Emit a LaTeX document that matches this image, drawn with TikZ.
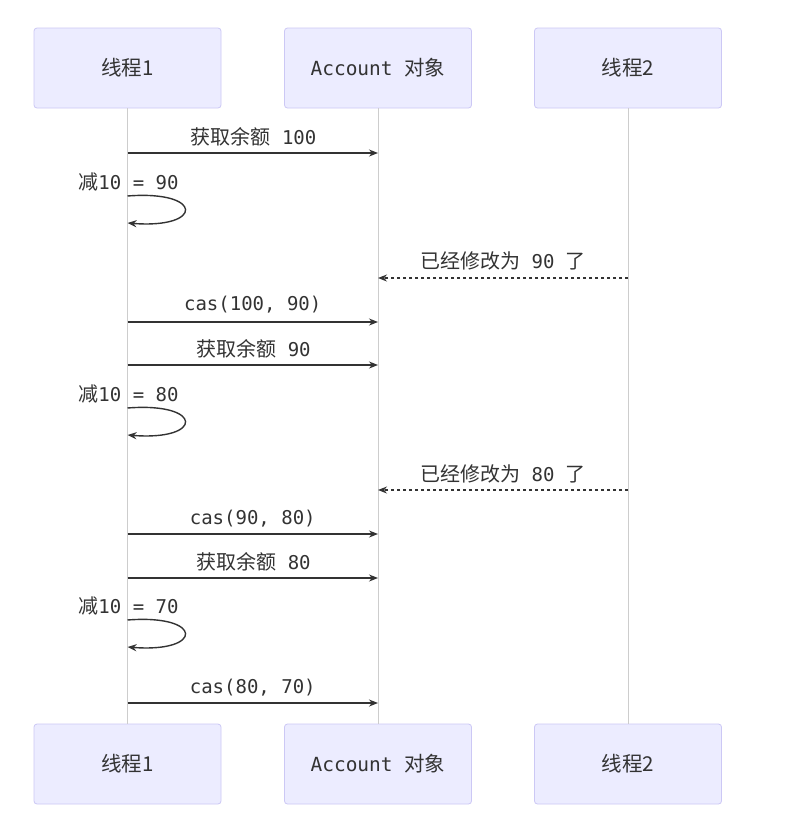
\documentclass[tikz,border=0pt]{standalone}
\usepackage{fontspec}
\usetikzlibrary{arrows.meta}
\newfontfamily\cjk{Noto Sans CJK SC}
\newfontfamily\mono[Scale=0.95]{DejaVu Sans Mono}
\definecolor{boxfill}{RGB}{236,236,255}
\definecolor{boxline}{RGB}{204,200,245}
\definecolor{ink}{RGB}{51,51,51}
\definecolor{life}{RGB}{205,205,205}
\tikzset{
  x=1pt, y=1pt,
  actor/.style={draw=boxline, fill=boxfill, rounded corners=3pt, line width=0.8pt,
    minimum width=187pt, minimum height=80pt, text=ink, font=\fontsize{20.5}{24}\selectfont, inner sep=0pt},
  lifeline/.style={draw=life, line width=1pt},
  msg/.style={draw=ink, line width=1.4pt, -{Stealth[length=9pt,width=7pt]}},
  reply/.style={draw=ink, line width=1.4pt, dash pattern=on 3pt off 3pt, -{Stealth[length=9pt,width=7pt]}},
  lbl/.style={text=ink, font=\fontsize{20}{24}\selectfont, inner sep=0pt},
}
\begin{document}
\begin{tikzpicture}
\fill[white] (0,0) rectangle (785,-828);
\useasboundingbox (0,0) rectangle (785,-828);
% actors
\node[actor] (t1) at (127.5,-68) {\cjk 线程1};
\node[actor] (t2) at (378,-68) {\mono Account\ \cjk 对象};
\node[actor] (t3) at (628,-68) {\cjk 线程2};
\node[actor] (b1) at (127.5,-764) {\cjk 线程1};
\node[actor] (b2) at (378,-764) {\mono Account\ \cjk 对象};
\node[actor] (b3) at (628,-764) {\cjk 线程2};
% lifelines
\draw[lifeline] (t1.south) -- (b1.north);
\draw[lifeline] (t2.south) -- (b2.north);
\draw[lifeline] (t3.south) -- (b3.north);
% message endpoints
\foreach \n/\y in {1/153, 4/322, 5/365, 8/534, 9/578, 11/703}{
  \coordinate (a\n) at (127.5,-\y);
  \coordinate (c\n) at (378,-\y);
}
\foreach \n/\y in {3/278, 7/490}{
  \coordinate (c\n) at (378,-\y);
  \coordinate (d\n) at (628,-\y);
}
\foreach \n/\y in {2/196, 6/408, 10/620}{
  \coordinate (ls\n) at (127.5,-\y);
  \coordinate (le\n) at (127.5,-\y-27);
}
% messages
\draw[msg] (a1) -- (c1);
\node[lbl] (l1) at (253.5,-137) {\cjk 获取余额\mono\ 100};
\draw[msg] (ls2) .. controls (204,-190) and (204,-229) .. (le2);
\node[lbl] (l2) at (128.5,-182) {\cjk 减\mono 10 = 90};
\draw[reply] (d3) -- (c3);
\node[lbl] (l3) at (503,-261) {\cjk 已经修改为\mono\ 90 \cjk 了};
\draw[msg] (a4) -- (c4);
\node[lbl] (l4) at (252.75,-305) {\mono cas(100, 90)};
\draw[msg] (a5) -- (c5);
\node[lbl] (l5) at (253.5,-349) {\cjk 获取余额\mono\ 90};
\draw[msg] (ls6) .. controls (204,-402) and (204,-441) .. (le6);
\node[lbl] (l6) at (128.5,-394) {\cjk 减\mono 10 = 80};
\draw[reply] (d7) -- (c7);
\node[lbl] (l7) at (503,-474) {\cjk 已经修改为\mono\ 80 \cjk 了};
\draw[msg] (a8) -- (c8);
\node[lbl] (l8) at (252.75,-519) {\mono cas(90, 80)};
\draw[msg] (a9) -- (c9);
\node[lbl] (l9) at (253.5,-562) {\cjk 获取余额\mono\ 80};
\draw[msg] (ls10) .. controls (204,-614) and (204,-653) .. (le10);
\node[lbl] (l10) at (128.5,-606) {\cjk 减\mono 10 = 70};
\draw[msg] (a11) -- (c11);
\node[lbl] (l11) at (252.75,-688) {\mono cas(80, 70)};
\end{tikzpicture}
\end{document}
